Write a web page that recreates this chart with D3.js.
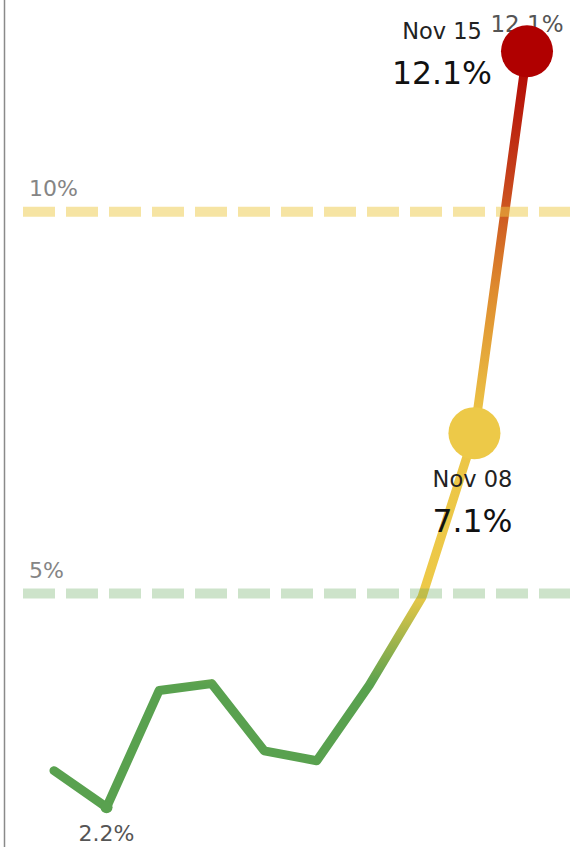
<!DOCTYPE html>
<html>
<head>
<meta charset="utf-8">
<script src="https://cdn.jsdelivr.net/npm/d3@7"></script>
<style>
  html, body { margin: 0; padding: 0; background: #fff; }
  svg { display: block; }
</style>
</head>
<body>
<svg id="chart"></svg>
<script>
// weekly positivity rate
const dates = ['2020-09-13', '2020-09-20', '2020-09-27', '2020-10-04', '2020-10-11',
  '2020-10-18', '2020-10-25', '2020-11-01', '2020-11-08', '2020-11-15'];
const rates = [2.68, 2.2, 3.73, 3.82, 2.94, 2.81, 3.8, 4.95, 7.1, 12.1];

// reference lines
const refValues = [10, 5];
const refLabels = ['10%', '5%'];
const refColors = ['#edc948', '#59a14f'];
const refOpacity = [0.5, 0.3];

// colour along the value axis
const stopValues = [3.8, 5.0, 7.3, 9.0, 10.5, 12.1];
const stopColors = ['#59a14f', '#edc948', '#ecc546', '#de8a2e', '#c53f1a', '#b00000'];

const W = 570, H = 847;
const parse = d3.timeParse('%Y-%m-%d');
const fmtDay = d3.timeFormat('%b %d');
const fmtPct = d => d3.format('.1f')(d) + '%';

const data = dates.map((d, i) => ({ date: parse(d), value: rates[i] }));

const svg = d3.select('#chart').attr('width', W).attr('height', H);

const x = d3.scaleTime()
  .domain(d3.extent(data, d => d.date))
  .range([54, 527]);

const y = d3.scaleLinear()
  .domain([5, 10])
  .range([593.5, 211.7]);

const font = '"DejaVu Sans", sans-serif';

// left axis line
svg.append('line')
  .attr('x1', 4.5).attr('x2', 4.5)
  .attr('y1', 0).attr('y2', H)
  .attr('stroke', '#8a8a8a')
  .attr('stroke-width', 1.5);

// gradient for the trend line
const grad = svg.append('defs').append('linearGradient')
  .attr('id', 'trend-grad')
  .attr('gradientUnits', 'userSpaceOnUse')
  .attr('x1', 0).attr('x2', 0)
  .attr('y1', y(stopValues[0]))
  .attr('y2', y(stopValues[stopValues.length - 1]));

const span = stopValues[stopValues.length - 1] - stopValues[0];
stopValues.forEach((v, i) => {
  grad.append('stop')
    .attr('offset', ((v - stopValues[0]) / span * 100) + '%')
    .attr('stop-color', stopColors[i]);
});

const line = d3.line()
  .x(d => x(d.date))
  .y(d => y(d.value));

svg.append('path')
  .datum(data)
  .attr('d', line)
  .attr('fill', 'none')
  .attr('stroke', 'url(#trend-grad)')
  .attr('stroke-width', 9)
  .attr('stroke-linejoin', 'round')
  .attr('stroke-linecap', 'round');

// dashed reference lines drawn over the trend
refValues.forEach((v, i) => {
  svg.append('line')
    .attr('x1', 23).attr('x2', W)
    .attr('y1', y(v)).attr('y2', y(v))
    .attr('stroke', refColors[i])
    .attr('stroke-opacity', refOpacity[i])
    .attr('stroke-width', 10)
    .attr('stroke-dasharray', '32 11');

  svg.append('text')
    .attr('x', 29)
    .attr('y', y(v) - 16)
    .attr('fill', '#858585')
    .attr('font-family', font)
    .attr('font-size', '22px')
    .text(refLabels[i]);
});

const minPt = data.reduce((a, b) => b.value < a.value ? b : a);
const last = data[data.length - 1];
const prev = data[data.length - 2];

// min / max mark labels
svg.append('text')
  .attr('x', x(minPt.date))
  .attr('y', y(minPt.value) + 34)
  .attr('text-anchor', 'middle')
  .attr('fill', '#555')
  .attr('font-family', font)
  .attr('font-size', '22px')
  .text(fmtPct(minPt.value));

svg.append('text')
  .attr('x', x(last.date))
  .attr('y', y(last.value) - 19)
  .attr('text-anchor', 'middle')
  .attr('fill', '#555')
  .attr('font-family', font)
  .attr('font-size', '23px')
  .text(fmtPct(last.value));

// small dot at the minimum
svg.append('circle')
  .attr('cx', x(minPt.date))
  .attr('cy', y(minPt.value))
  .attr('r', 6)
  .attr('fill', '#59a14f');

// big circles for the last two weeks
svg.append('circle')
  .attr('cx', x(prev.date))
  .attr('cy', y(prev.value))
  .attr('r', 26)
  .attr('fill', '#edc948');

svg.append('circle')
  .attr('cx', x(last.date))
  .attr('cy', y(last.value))
  .attr('r', 26)
  .attr('fill', '#b00000');

// callouts
function callout(d, cx, top) {
  svg.append('text')
    .attr('x', cx).attr('y', top)
    .attr('text-anchor', 'middle')
    .attr('fill', '#222')
    .attr('font-family', font)
    .attr('font-size', '22.5px')
    .text(fmtDay(d.date));
  svg.append('text')
    .attr('x', cx).attr('y', top + 45)
    .attr('text-anchor', 'middle')
    .attr('fill', '#111')
    .attr('font-family', font)
    .attr('font-size', '31.5px')
    .text(fmtPct(d.value));
}

callout(last, x(last.date) - 85, 38.5);
callout(prev, x(prev.date) - 2, 486.5);
</script>
</body>
</html>
